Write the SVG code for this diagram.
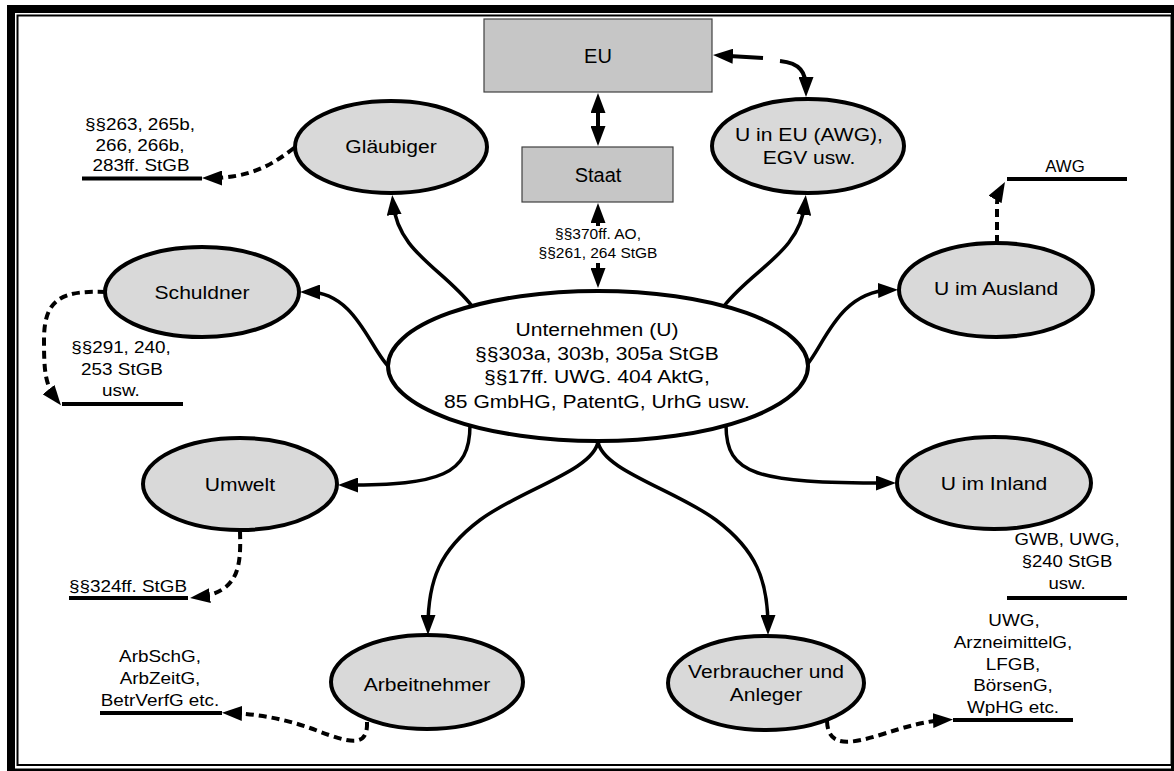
<svg xmlns="http://www.w3.org/2000/svg" width="1174" height="771" viewBox="0 0 1174 771">
  <style>
    text { font-family: "Liberation Sans", Arial, sans-serif; fill: #000; text-anchor: middle; }
    .nt { font-size: 18.5px; }
    .bt { font-size: 20px; }
    .lt { font-size: 16px; }
    .ml { font-size: 15.5px; }
    .node { fill: #d9d9d9; stroke: #000; stroke-width: 4; }
    .core { fill: #fff; stroke: #000; stroke-width: 4; }
    .box { fill: #c6c6c6; stroke: #404040; stroke-width: 1.2; }
    .sol { fill: none; stroke: #000; stroke-width: 3.5; marker-end: url(#ah); }
    .dbl { fill: none; stroke: #000; stroke-width: 4; marker-start: url(#ah); marker-end: url(#ah); }
    .dsh { fill: none; stroke: #000; stroke-width: 4; stroke-dasharray: 8 5; marker-end: url(#ah); }
    .ul { stroke: #000; stroke-width: 4; }
  </style>
  <defs>
    <marker id="ah" viewBox="0 0 20 15" refX="12" refY="7.5" markerWidth="20" markerHeight="15" markerUnits="userSpaceOnUse" orient="auto-start-reverse">
      <path d="M0,0 L20,7.5 L0,15 z" fill="#000" stroke="none"/>
    </marker>
  </defs>

  <rect width="1174" height="771" fill="#fff"/>

  <!-- page frame -->
  <g id="frame" fill="#000">
    <rect x="7" y="5" width="8" height="766"/>
    <rect x="7" y="5" width="1167" height="8"/>
    <rect x="17.5" y="15.5" width="1154" height="749.5" fill="none" stroke="#000" stroke-width="2"/>
    <rect x="15" y="768.5" width="1159" height="2.5"/>
    <rect x="1171" y="13" width="3" height="758"/>
  </g>

  <!-- connectors -->
  <g id="connectors">
    <!-- solid arrows from the company -->
    <path class="sol" d="M472,306 C442,268 398,252 393,203"/>
    <path class="sol" d="M724,306 C754,268 800,252 805,203"/>
    <path class="sol" d="M390,368 C370,350 356,292 308,292"/>
    <path class="sol" d="M806,366 C824,346 838,292 890,290"/>
    <path class="sol" d="M470,425 C470,475 440,485 346,485"/>
    <path class="sol" d="M726,425 C726,475 756,483 888,483"/>
    <path class="sol" d="M598,441 C595,470 520,490 480,520 C440,550 428,580 428,627"/>
    <path class="sol" d="M598,441 C601,470 676,490 716,520 C756,550 768,580 768,627"/>
    <!-- double arrows EU / Staat / company -->
    <path class="dbl" d="M598,101 L598,138"/>
    <path class="dbl" d="M598,211 L598,280"/>
    <rect x="552" y="226" width="92" height="37" fill="#fff"/>
    <text class="ml" x="598" y="239">§§370ff. AO,</text>
    <text class="ml" x="598" y="258">§§261, 264 StGB</text>
    <!-- EU to U in EU -->
    <path d="M721,55.5 L763,58" fill="none" stroke="#000" stroke-width="4" marker-start="url(#ah)"/>
    <path d="M780,61 C800,63 806,72 806,89" fill="none" stroke="#000" stroke-width="4" marker-end="url(#ah)"/>
    <!-- dashed arrows to the statute lines -->
    <path class="dsh" d="M294,148 C272,165 250,178 210,178"/>
    <path class="dsh" d="M106,292 C60,290 44,300 44,340 C44,370 45,385 56,399"/>
    <path class="dsh" d="M240,531 C241,565 240,592 198,597"/>
    <path class="dsh" d="M367,722 C368,748 350,743 318,731 C290,720 260,714 230,713"/>
    <path class="dsh" d="M827,721 C828,748 850,744 880,735 C905,727 925,721 945,720"/>
    <path class="dsh" d="M997,243 L997,205 Q997,196 1001,189"/>
  </g>

  <!-- statute labels -->
  <g id="label-glaeubiger">
    <line class="ul" x1="82" y1="178.5" x2="202" y2="178.5"/>
    <text class="lt" transform="translate(140 130) scale(1.18 1)">§§263, 265b,</text>
    <text class="lt" transform="translate(140 151) scale(1.18 1)">266, 266b,</text>
    <text class="lt" transform="translate(141 171) scale(1.18 1)">283ff. StGB</text>
  </g>
  <g id="label-schuldner">
    <line class="ul" x1="62" y1="404" x2="183" y2="404"/>
    <text class="lt" transform="translate(121 353) scale(1.18 1)">§§291, 240,</text>
    <text class="lt" transform="translate(122 375) scale(1.18 1)">253 StGB</text>
    <text class="lt" transform="translate(121 396) scale(1.18 1)">usw.</text>
  </g>
  <g id="label-umwelt">
    <line class="ul" x1="69" y1="598" x2="188" y2="598"/>
    <text class="lt" transform="translate(128 592) scale(1.18 1)">§§324ff. StGB</text>
  </g>
  <g id="label-arbeitnehmer">
    <line class="ul" x1="100" y1="713" x2="222" y2="713"/>
    <text class="lt" transform="translate(160 662) scale(1.18 1)">ArbSchG,</text>
    <text class="lt" transform="translate(160 684) scale(1.18 1)">ArbZeitG,</text>
    <text class="lt" transform="translate(160 706) scale(1.18 1)">BetrVerfG etc.</text>
  </g>
  <g id="label-verbraucher">
    <line class="ul" x1="953" y1="720" x2="1073" y2="720"/>
    <text class="lt" transform="translate(1014 626) scale(1.18 1)">UWG,</text>
    <text class="lt" transform="translate(1013 648) scale(1.18 1)">ArzneimittelG,</text>
    <text class="lt" transform="translate(1013 670) scale(1.18 1)">LFGB,</text>
    <text class="lt" transform="translate(1013 691) scale(1.18 1)">BörsenG,</text>
    <text class="lt" transform="translate(1013 713) scale(1.18 1)">WpHG etc.</text>
  </g>
  <g id="label-inland">
    <line class="ul" x1="1007" y1="598" x2="1127" y2="598"/>
    <text class="lt" transform="translate(1067 545) scale(1.16 1)">GWB, UWG,</text>
    <text class="lt" transform="translate(1067 567) scale(1.16 1)">§240 StGB</text>
    <text class="lt" transform="translate(1067 589) scale(1.16 1)">usw.</text>
  </g>
  <g id="label-ausland">
    <line class="ul" x1="1007" y1="179" x2="1127" y2="179"/>
    <text class="lt" transform="translate(1065 172) scale(1.05 1)">AWG</text>
  </g>

  <!-- nodes -->
  <g id="eu">
    <rect class="box" x="484" y="19" width="228" height="73"/>
    <text class="bt" x="598" y="63">EU</text>
  </g>
  <g id="staat">
    <rect class="box" x="522" y="147" width="151" height="55"/>
    <text class="bt" x="598" y="182">Staat</text>
  </g>
  <g id="unternehmen">
    <ellipse class="core" cx="598" cy="366" rx="210" ry="75"/>
    <text class="nt" transform="translate(597 336) scale(1.14 1)">Unternehmen (U)</text>
    <text class="nt" transform="translate(597 360) scale(1.14 1)">§§303a, 303b, 305a StGB</text>
    <text class="nt" transform="translate(597 383) scale(1.14 1)">§§17ff. UWG. 404 AktG,</text>
    <text class="nt" transform="translate(597 408) scale(1.14 1)">85 GmbHG, PatentG, UrhG usw.</text>
  </g>
  <g id="glaeubiger">
    <ellipse class="node" cx="391" cy="147" rx="96" ry="46"/>
    <text class="nt" transform="translate(391 153) scale(1.14 1)">Gläubiger</text>
  </g>
  <g id="u-in-eu">
    <ellipse class="node" cx="808" cy="146" rx="96" ry="47"/>
    <text class="nt" transform="translate(809 141) scale(1.14 1)">U in EU (AWG),</text>
    <text class="nt" transform="translate(809 164) scale(1.14 1)">EGV usw.</text>
  </g>
  <g id="schuldner">
    <ellipse class="node" cx="202" cy="292" rx="97" ry="45"/>
    <text class="nt" transform="translate(202 299) scale(1.14 1)">Schuldner</text>
  </g>
  <g id="u-im-ausland">
    <ellipse class="node" cx="996" cy="290" rx="97" ry="47"/>
    <text class="nt" transform="translate(996 295) scale(1.14 1)">U im Ausland</text>
  </g>
  <g id="umwelt">
    <ellipse class="node" cx="240" cy="484" rx="97" ry="46"/>
    <text class="nt" transform="translate(240 491) scale(1.14 1)">Umwelt</text>
  </g>
  <g id="u-im-inland">
    <ellipse class="node" cx="994" cy="483" rx="97" ry="46"/>
    <text class="nt" transform="translate(994 490) scale(1.14 1)">U im Inland</text>
  </g>
  <g id="arbeitnehmer">
    <ellipse class="node" cx="427" cy="682" rx="96" ry="47"/>
    <text class="nt" transform="translate(427 691) scale(1.14 1)">Arbeitnehmer</text>
  </g>
  <g id="verbraucher">
    <ellipse class="node" cx="766" cy="683" rx="98" ry="47"/>
    <text class="nt" transform="translate(766 678) scale(1.14 1)">Verbraucher und</text>
    <text class="nt" transform="translate(766 701) scale(1.14 1)">Anleger</text>
  </g>
</svg>
